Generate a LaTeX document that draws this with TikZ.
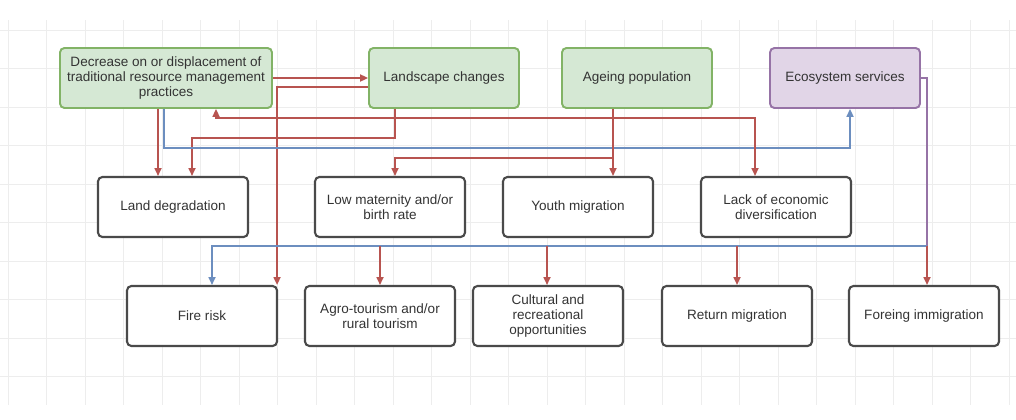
\documentclass[tikz,border=0pt]{standalone}
\usepackage{fontspec}
\setmainfont{Liberation Sans}
\usetikzlibrary{arrows.meta,calc}
\definecolor{dgreen}{HTML}{82B366}
\definecolor{lgreen}{HTML}{D5E8D4}
\definecolor{dpurple}{HTML}{9673A6}
\definecolor{lpurple}{HTML}{E1D5E7}
\definecolor{ered}{HTML}{B85450}
\definecolor{eblue}{HTML}{6C8EBF}
\definecolor{boxgray}{HTML}{4A4A4A}
\definecolor{txtgray}{HTML}{333333}

\begin{document}
\begin{tikzpicture}[x=0.02cm, y=-0.02cm,
  gbox/.style={rectangle, rounded corners=2.5pt, draw=dgreen, line width=1.1pt,
               fill=lgreen, minimum width=3cm, minimum height=1.2cm, inner sep=1pt,
               font=\fontsize{7.7}{8.8}\selectfont, align=center, text=txtgray},
  pbox/.style={gbox, draw=dpurple, fill=lpurple},
  wbox/.style={gbox, draw=boxgray, fill=white, line width=1.2pt},
  rarr/.style={-{Triangle[length=4.5pt, width=4pt]}, draw=ered, line width=0.9pt},
  barr/.style={rarr, draw=eblue},
  pline/.style={draw=dpurple, line width=0.9pt}
]
\useasboundingbox (0,0) rectangle (1016,419);
\fill[white] (0,0) rectangle (1016,419);

% Grid
\foreach \gx in {8,46.5,...,1016} \draw[black!7, line width=0.4pt] (\gx,20) -- (\gx,405);
\foreach \gy in {30,68.5,...,405} \draw[black!7, line width=0.4pt] (0,\gy) -- (1016,\gy);

% Top row
\node[gbox, minimum width=4.24cm] (dec) at (166,78) {Decrease on or displacement of\\traditional resource management\\practices};
\node[gbox] (lsc) at (444,78) {Landscape changes};
\node[gbox] (age) at (637,78) {Ageing population};
\node[pbox] (eco) at (845,78) {Ecosystem services};

% Middle row
\node[wbox] (lnd) at (173,207) {Land degradation};
\node[wbox] (low) at (390,207) {Low maternity and/or\\birth rate};
\node[wbox] (yth) at (578,207) {Youth migration};
\node[wbox] (lak) at (776,207) {Lack of economic\\diversification};

% Bottom row
\node[wbox] (fir) at (202,316) {Fire risk};
\node[wbox] (agr) at (380,316) {Agro-tourism and/or\\rural tourism};
\node[wbox] (cul) at (548,316) {Cultural and\\recreational\\opportunities};
\node[wbox] (ret) at (737,316) {Return migration};
\node[wbox] (frg) at (924,316) {Foreing immigration};

% Arrows
\draw[rarr] (dec.east) -- (lsc.west);
\draw[rarr] ($(lsc.west)+(0,9)$) -| ($(fir.north east)+(-1,0)$);
\draw[rarr] ($(lsc.south)+(-49,0)$) -- ++(0,29) -| ($(lnd.north)+(19,0)$);
\draw[rarr] ($(dec.south)+(-8,0)$) -- ($(lnd.north)+(-15,0)$);
\draw[barr] ($(dec.south)+(-2,0)$) -- ++(0,39) -| ($(eco.south)+(5,0)$);
\draw[{Triangle[length=4.5pt, width=4pt]}-{Triangle[length=4.5pt, width=4pt]}, draw=ered, line width=0.9pt]
  ($(dec.south)+(50,0)$) -- ++(0,9) -| ($(lak.north)+(-21,0)$);
\draw[rarr] ($(age.south)+(-24,0)$) -- ($(yth.north)+(35,0)$);
\draw[rarr] ($(age.south)+(-24,0)$) -- ++(0,49) -| ($(low.north)+(5,0)$);

% Ecosystem services trunk
\coordinate (trk) at (927,246);
\coordinate (culn) at ($(cul.north)+(-1,0)$);
\draw[pline] (eco.east) -| (trk);
\draw[barr] (trk) -| ($(fir.north)+(10,0)$);
\draw[rarr] (agr.north |- trk) -- (agr.north);
\draw[rarr] (culn |- trk) -- (culn);
\draw[rarr] (ret.north |- trk) -- (ret.north);
\draw[rarr] (trk) -- (trk |- frg.north);
\end{tikzpicture}
\end{document}
